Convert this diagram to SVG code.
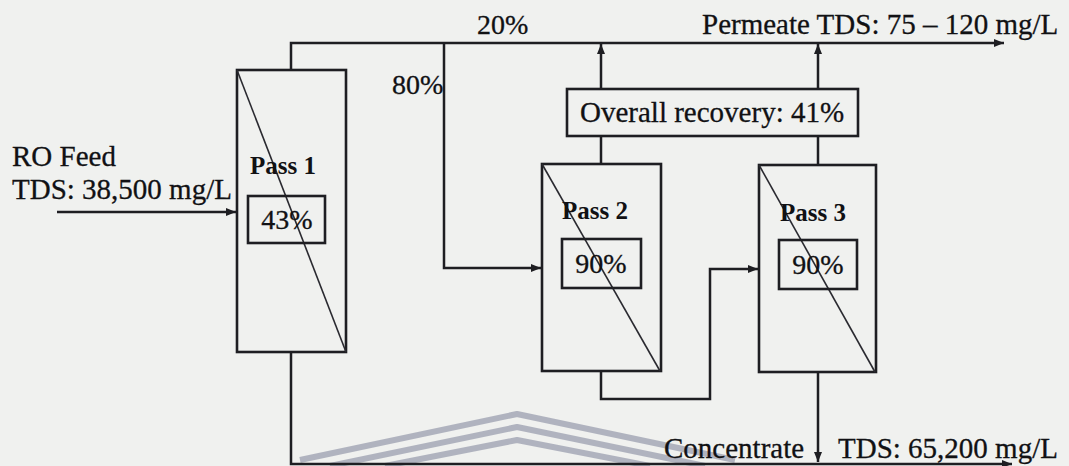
<svg xmlns="http://www.w3.org/2000/svg" width="1069" height="466" viewBox="0 0 1069 466">
<defs>
<style>
.ln{fill:none;stroke:#1e1e22;stroke-width:2.5}
.bx{fill:none;stroke:#1e1e22;stroke-width:2.6}
.dg{stroke:#2a2a30;stroke-width:1.6}
.t{font-family:"Liberation Serif","Times New Roman",serif;font-size:29px;fill:#111114;stroke:#111114;stroke-width:0.3}
.p{font-family:"Liberation Serif","Times New Roman",serif;font-size:28px;fill:#111114;stroke:#111114;stroke-width:0.3}
.b{font-family:"Liberation Serif","Times New Roman",serif;font-size:25px;font-weight:bold;fill:#111114}
.wm{fill:none;stroke:#a4a8b6;stroke-width:6;stroke-linejoin:round;opacity:0.85}
</style>
<marker id="ah" viewBox="0 0 10 10" refX="10" refY="5" markerWidth="10" markerHeight="10" markerUnits="userSpaceOnUse" orient="auto">
<path d="M0,1 L10,5 L0,9 Z" fill="#1e1e22"/>
</marker>
</defs>
<rect width="1069" height="466" fill="#f0f1ef"/>
<g id="watermark">
<polyline class="wm" points="300,460 517,414 735,460"/>
<polyline class="wm" points="330,466 517,427 705,466"/>
<polyline class="wm" points="385,466 517,440 650,466"/>
</g>
<g id="connectors">
<line class="ln" x1="57" y1="212" x2="236" y2="212" marker-end="url(#ah)"/>
<polyline class="ln" points="291,70 291,43 1004,43" marker-end="url(#ah)"/>
<polyline class="ln" points="444,43 444,268 541,268" marker-end="url(#ah)"/>
<line class="ln" x1="601" y1="164" x2="601" y2="136"/>
<line class="ln" x1="601" y1="89" x2="601" y2="44" marker-end="url(#ah)"/>
<line class="ln" x1="818" y1="165" x2="818" y2="136"/>
<line class="ln" x1="818" y1="89" x2="818" y2="44" marker-end="url(#ah)"/>
<polyline class="ln" points="601,371 601,399 710,399 710,269 758,269" marker-end="url(#ah)"/>
<line class="ln" x1="818" y1="372" x2="818" y2="462" marker-end="url(#ah)"/>
<polyline class="ln" points="291,352 291,464 1012,464" marker-end="url(#ah)"/>
</g>
<g id="pass1">
<rect class="bx" x="237" y="70" width="109" height="282"/>
<line class="dg" x1="237" y1="70" x2="346" y2="352"/>
<text class="b" x="250" y="174">Pass 1</text>
<rect class="bx" x="248" y="196" width="77" height="47"/>
<text class="p" x="287" y="229" text-anchor="middle">43%</text>
</g>
<g id="pass2">
<rect class="bx" x="542" y="164" width="119" height="207"/>
<line class="dg" x1="542" y1="164" x2="660" y2="371"/>
<text class="b" x="562" y="219">Pass 2</text>
<rect class="bx" x="562" y="239" width="79" height="49"/>
<text class="p" x="601" y="273" text-anchor="middle">90%</text>
</g>
<g id="pass3">
<rect class="bx" x="759" y="165" width="117" height="207"/>
<line class="dg" x1="759" y1="165" x2="875" y2="372"/>
<text class="b" x="780" y="221">Pass 3</text>
<rect class="bx" x="779" y="240" width="78" height="49"/>
<text class="p" x="818" y="274" text-anchor="middle">90%</text>
</g>
<g id="overall">
<rect class="bx" x="567" y="89" width="291" height="47"/>
<text class="t" x="580" y="122">Overall recovery: 41%</text>
</g>
<g id="labels">
<text class="t" x="12" y="166">RO Feed</text>
<text class="t" x="12" y="199">TDS: 38,500 mg/L</text>
<text class="p" x="477" y="34">20%</text>
<text class="p" x="392" y="94">80%</text>
<text class="t" x="702" y="34">Permeate TDS: 75 – 120 mg/L</text>
<text class="t" x="664" y="458">Concentrate</text>
<text class="t" x="838" y="458">TDS: 65,200 mg/L</text>
</g>
</svg>
